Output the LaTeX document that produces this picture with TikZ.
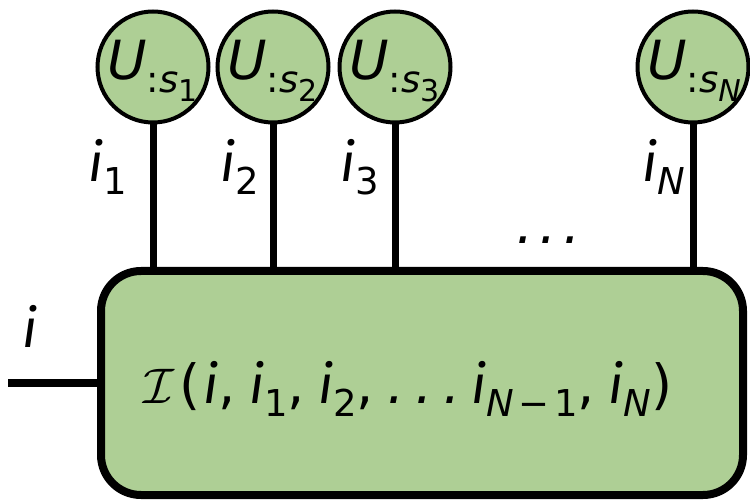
\documentclass[tikz,border=0pt]{standalone}
\usepackage{graphicx}
\usepackage{fontspec}
\setmainfont{DejaVu Sans}
\newfontfamily\firai{Fira Sans}
\definecolor{boxgreen}{RGB}{174,207,149}
\newcommand{\bigfs}{\fontsize{54}{60}\selectfont}
\newcommand{\subsz}[1]{\raisebox{-0.24em}{\fontsize{37}{40}\selectfont #1}}
\newcommand{\subsub}[1]{\raisebox{-0.22em}{\fontsize{30}{32}\selectfont #1}}
\newcommand{\vi}{{\firai\itshape i}}
\newcommand{\Ulab}[1]{\textit{U}\subsz{:\textit{s}\subsub{#1}}}
\newcommand{\ilab}[1]{\vi\subsz{#1}}
\newcommand{\cm}{,\kern0.25em}
\newcommand{\mydots}{\textit{.\kern0.12em.\kern0.12em.}}
\newcommand{\mdots}{\textit{.\kern0.2em.\kern0.2em.}}
\newcommand{\calI}{\scalebox{5}{\fontsize{10}{12}\selectfont$\mathcal{I}$}}
\tikzset{
  ucirc/.style={circle, draw, line width=4pt, fill=boxgreen, minimum size=111pt, inner sep=0pt},
  leg/.style={line width=7pt},
  lab/.style={font=\bigfs, inner sep=0pt, anchor=base},
  bigbox/.style={draw, line width=8pt, fill=boxgreen, rounded corners=40pt, minimum width=642pt, minimum height=224pt, inner sep=0pt}
}
\begin{document}
\begin{tikzpicture}[x=1pt,y=-1pt]
\useasboundingbox (0,0) rectangle (750,502);
\foreach \n/\x in {1/153,2/273,3/395,4/693}{
  \node[ucirc] (u\n) at (\x,67) {};
  \coordinate (b\n) at (\x,271);
  \draw[leg] (u\n.south) -- (b\n);
}
\node[bigbox] (box) at (422,383) {};
\node[lab, anchor=base west] (ut1) at (107,80) {\Ulab{1}};
\node[lab, anchor=base west] (ut2) at (227,80) {\Ulab{2}};
\node[lab, anchor=base west] (ut3) at (349,80) {\Ulab{3}};
\node[lab, anchor=base west] (ut4) at (647,80) {\Ulab{\textit{N}}};
\node[lab, anchor=base west] (l1) at (88,182) {\ilab{1}};
\node[lab, anchor=base west] (l2) at (220,182) {\ilab{2}};
\node[lab, anchor=base west] (l3) at (340,182) {\ilab{3}};
\node[lab, anchor=base west] (l4) at (642,182) {\ilab{\textit{N}}};
\node[lab, anchor=base west] (dots) at (516,244) {\mydots};
\node[lab, anchor=base west] (il) at (22,348) {\vi};
\coordinate (lend) at (8,383);
\draw[line width=8pt] (lend) -- (box.west);
\node[lab, anchor=base west] (txt) at (143,404) {\calI\kern0.1em(\kern0.05em\vi\cm\ilab{1}\cm\ilab{2}\cm\mdots\kern0.2em\ilab{\textit{N}\kern0.12em−\kern0.12em1}\cm\ilab{\textit{N}})};
\end{tikzpicture}
\end{document}
